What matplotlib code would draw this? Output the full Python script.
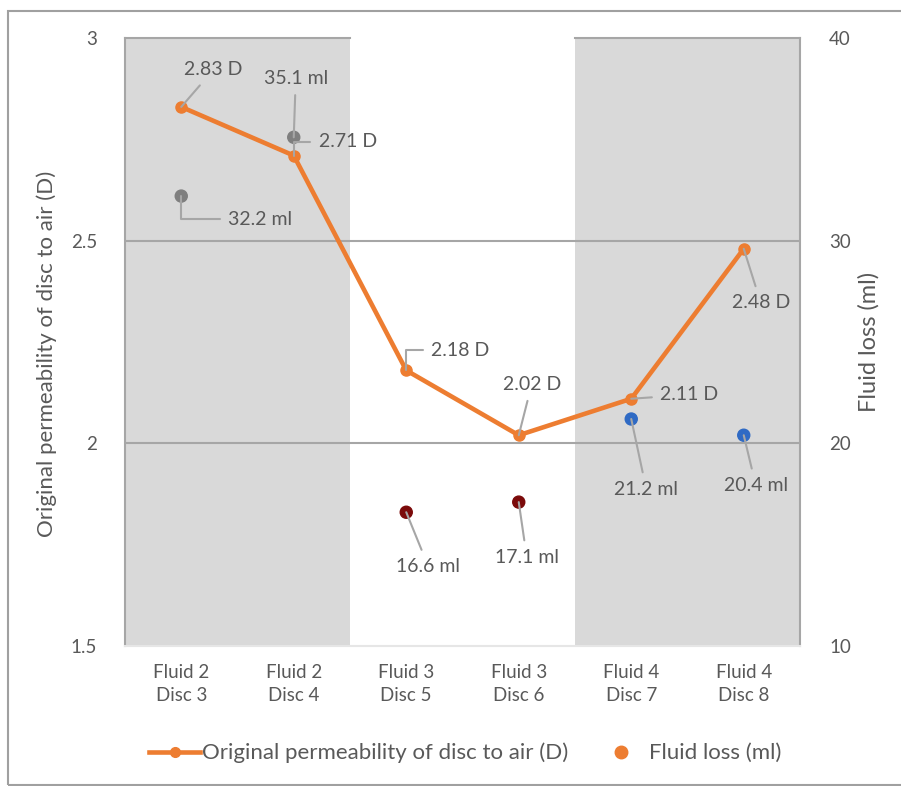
import matplotlib
matplotlib.use("Agg")
import matplotlib.pyplot as plt
from matplotlib.lines import Line2D
from matplotlib.patches import Rectangle

# Dados do ensaio
categorias = ["Fluid 2\nDisc 3", "Fluid 2\nDisc 4", "Fluid 3\nDisc 5",
              "Fluid 3\nDisc 6", "Fluid 4\nDisc 7", "Fluid 4\nDisc 8"]
permeabilidade = [2.83, 2.71, 2.18, 2.02, 2.11, 2.48]   # D
perda_fluido = [32.2, 35.1, 16.6, 17.1, 21.2, 20.4]     # ml
cores_fluido = ["#7f7f7f", "#7f7f7f", "#7b0a0a", "#7b0a0a", "#2f6ac4", "#2f6ac4"]

# deslocamento dos rótulos (pixels) e tipo de ligação
off_perm = [(32, 37), (54, 14), (54, 20), (13, 51), (58, 4), (17, -54)]
elbow_perm = [False, True, True, False, False, False]
off_loss = [(79, -23), (2, 59), (22, -54), (8, -55), (15, -70), (12, -50)]
elbow_loss = [True, False, False, False, False, False]

plt.rcParams["font.family"] = ["Lato", "DejaVu Sans"]
txt = "#595959"
laranja = "#ed7d31"
linha = "#a6a6a6"

W, H = 901, 786
fig = plt.figure(figsize=(W / 100, H / 100), dpi=100)
fig.patches.append(Rectangle((8 / W, 1 / H), 1.1, 1 - 12 / H, transform=fig.transFigure,
                             fill=False, edgecolor="#a0a0a0", lw=1.5))

pos = [125 / W, 140 / H, 675 / W, 608 / H]
ax = fig.add_axes(pos)
ax2 = ax.twinx()
x = list(range(len(categorias)))

ax.set_xlim(-0.5, 5.5)
ax.set_ylim(1.5, 3)
ax2.set_ylim(10, 40)

# faixas cinza (fluido 2 e fluido 4)
for a, b in [(-0.5, 1.5), (3.5, 5.5)]:
    ax.axvspan(a, b, color="#d9d9d9", lw=0, zorder=0)
    ax.plot([a, b], [3, 3], color=linha, lw=1.5, zorder=1, clip_on=False)
ax.plot([-0.5, -0.5], [1.5, 3], color=linha, lw=1.5, clip_on=False)
ax.plot([5.5, 5.5], [1.5, 3], color=linha, lw=1.5, clip_on=False)
ax.plot([-0.5, 5.5], [1.5, 1.5], color="#e6e6e6", lw=1.5, clip_on=False)
for g in [2.0, 2.5]:
    ax.axhline(g, color=linha, lw=1.5, zorder=1)

for s in list(ax.spines.values()) + list(ax2.spines.values()):
    s.set_visible(False)

ax.set_xticks(x)
ax.set_xticklabels(categorias, linespacing=1.45)
ax.set_yticks([1.5, 2, 2.5, 3])
ax.set_yticklabels(["1.5", "2", "2.5", "3"])
ax2.set_yticks([10, 20, 30, 40])
ax.tick_params(axis="x", length=0, pad=13, labelsize=13.5, labelcolor=txt)
ax.tick_params(axis="y", length=0, pad=20, labelsize=13.5, labelcolor=txt)
ax2.tick_params(axis="y", length=0, pad=21, labelsize=13.5, labelcolor=txt)

ax.set_ylabel("Original permeability of disc to air (D)", fontsize=16, color=txt)
ax.yaxis.set_label_coords(-0.1, 0.48)
ax2.set_ylabel("Fluid loss (ml)", fontsize=17, color=txt, rotation=90)
ax2.yaxis.set_label_coords(1.086, 0.5)

# perda de fluido (eixo secundário)
ax2.scatter(x, perda_fluido, s=75, c=cores_fluido, zorder=3)
ax2.set_zorder(ax.get_zorder() + 1)
ax2.patch.set_visible(False)

# permeabilidade em eixo sobreposto
ln_ax = fig.add_axes(pos, sharex=ax)
ln_ax.set_ylim(1.5, 3)
ln_ax.axis("off")
ln_ax.set_zorder(ax2.get_zorder() + 1)
ln_ax.plot(x, permeabilidade, color=laranja, lw=3.3, marker="o", ms=8, zorder=4)


def rotulo(eixo, xi, yi, texto, off, cotovelo):
    if cotovelo:
        estilo = "angle,angleA=0,angleB=90,rad=0"
    else:
        estilo = "arc3"
    eixo.annotate(texto, (xi, yi), xytext=off, textcoords="offset pixels",
                  ha="center", va="center", fontsize=14, color=txt, zorder=6,
                  arrowprops=dict(arrowstyle="-", color=linha, lw=1.5,
                                  shrinkA=4, shrinkB=0, connectionstyle=estilo))


for i in x:
    rotulo(ln_ax, i, permeabilidade[i], f"{permeabilidade[i]:.2f} D", off_perm[i], elbow_perm[i])
    rotulo(ax2, i, perda_fluido[i], f"{perda_fluido[i]} ml", off_loss[i], elbow_loss[i])

handles = [
    Line2D([], [], color=laranja, lw=3.3, marker="o", ms=7),
    Line2D([], [], color=laranja, lw=0, marker="o", ms=9),
]
fig.legend(handles, ["Original permeability of disc to air (D)", "Fluid loss (ml)"],
           loc="center", bbox_to_anchor=(465 / W, 1 - 753 / H), ncol=2, frameon=False,
           fontsize=16, labelcolor=txt, handlelength=2.3, handletextpad=0.1,
           columnspacing=1.2)

fig.savefig("out.png", dpi=100)
